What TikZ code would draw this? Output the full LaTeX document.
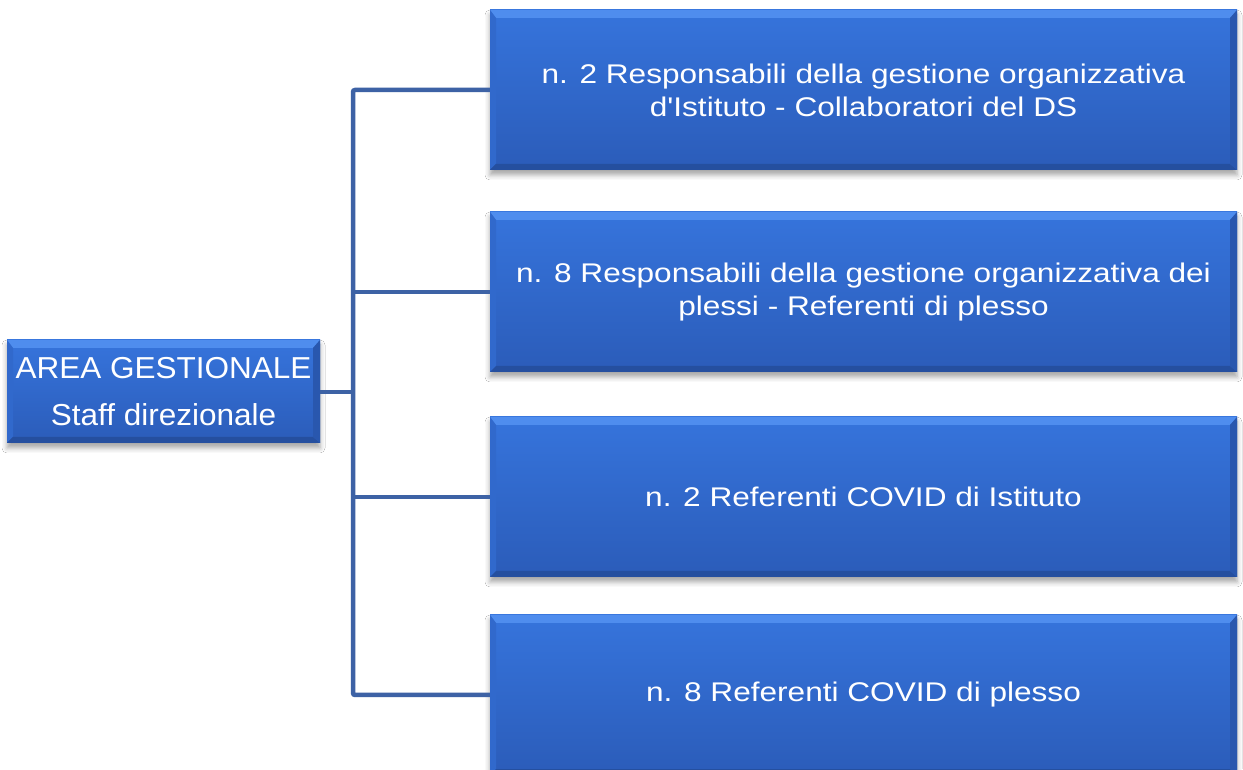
\documentclass[tikz,border=0pt]{standalone}
\usepackage{fontspec}
\setmainfont{Liberation Sans}
\newfontfamily\rfontfam[FakeStretch=1.17]{Liberation Sans}
\newfontfamily\lfontfam[FakeStretch=1.04]{Liberation Sans}
\usetikzlibrary{calc,shadows.blur}
\definecolor{faceT}{HTML}{3674DC}
\definecolor{faceB}{HTML}{2B5CB9}
\definecolor{bevT}{HTML}{4F8DEE}
\definecolor{bevL}{HTML}{3169CC}
\definecolor{bevB}{HTML}{254F9F}
\definecolor{bevR}{HTML}{2957AE}
\definecolor{conn}{HTML}{3D62A5}
\tikzset{
  bevel/.style={
    path picture={
      \coordinate (@nw) at (path picture bounding box.north west);
      \coordinate (@ne) at (path picture bounding box.north east);
      \coordinate (@sw) at (path picture bounding box.south west);
      \coordinate (@se) at (path picture bounding box.south east);
      \fill[bevT] (@nw) -- (@ne) -- ($(@ne)+(-7,-8)$) -- ($(@nw)+(6,-8)$) -- cycle;
      \fill[bevL] (@nw) -- ($(@nw)+(6,-8)$) -- ($(@sw)+(6,6)$) -- (@sw) -- cycle;
      \fill[bevB] (@sw) -- ($(@sw)+(6,6)$) -- ($(@se)+(-7,6)$) -- (@se) -- cycle;
      \fill[bevR] (@se) -- ($(@se)+(-7,6)$) -- ($(@ne)+(-7,-8)$) -- (@ne) -- cycle;
    }},
  gbox/.style={top color=faceT, bottom color=faceB, bevel, inner sep=0pt,
    text=white, align=center,
    blur shadow={shadow xshift=0pt, shadow yshift=-5pt, shadow blur radius=5pt, shadow opacity=35}},
  rbox/.style={gbox, minimum width=747, minimum height=160,
    font=\rfontfam\fontsize{27}{33}\selectfont},
  lbox/.style={gbox, minimum width=313, minimum height=103,
    font=\lfontfam\fontsize{30.3}{47}\selectfont},
  connline/.style={draw=conn, line width=4.5pt, rounded corners=2pt}
}
\begin{document}
\begin{tikzpicture}[x=1pt,y=1pt]
\useasboundingbox[fill=white] (0,0) rectangle (1243,769);
\node[lbox] (L) at (163.5,377.5) {AREA GESTIONALE\\Staff direzionale};
\node[rbox] (b1) at (863.5,679) {n. 2 Responsabili della gestione organizzativa\\d'Istituto - Collaboratori del DS};
\node[rbox] (b2) at (863.5,477) {n. 8 Responsabili della gestione organizzativa dei\\plessi - Referenti di plesso};
\node[rbox] (b3) at (863.5,272) {n. 2 Referenti COVID di Istituto};
\node[rbox] (b4) at (863.5,74) {n. 8 Referenti COVID di plesso};
\coordinate (t1) at (353,679);
\coordinate (t2) at (353,477);
\coordinate (t3) at (353,272);
\coordinate (t4) at (353,74);
\coordinate (tL) at (353,377);
\draw[connline] (b1.west) -- (t1) -- (t4) -- (b4.west);
\draw[connline] (b2.west) -- (t2);
\draw[connline] (b3.west) -- (t3);
\draw[connline] (L.east |- tL) -- (tL);
\end{tikzpicture}
\end{document}
